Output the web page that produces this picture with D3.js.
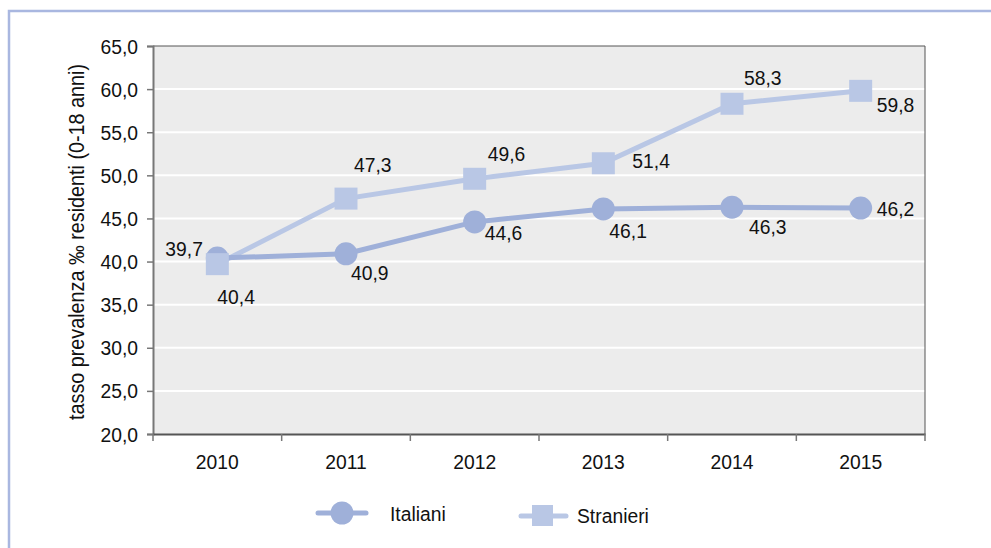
<!DOCTYPE html>
<html><head><meta charset="utf-8">
<script src="https://cdn.jsdelivr.net/npm/d3@7"></script>
<style>body{margin:0;background:#fff}svg{display:block}text{font-family:"Liberation Sans",Arial,sans-serif;fill:#111}</style>
</head><body><svg id="c" width="991" height="548"></svg>
<script>
const years = ["2010","2011","2012","2013","2014","2015"];
const italiani = [40.4, 40.9, 44.6, 46.1, 46.3, 46.2];
const stranieri = [39.7, 47.3, 49.6, 51.4, 58.3, 59.8];
const yTicks = [20,25,30,35,40,45,50,55,60,65];
const seriesNames = ["Italiani","Stranieri"];
const yTitle = "tasso prevalenza ‰ residenti (0-18 anni)";

// label offsets (layout only)
const offI = [[0,46],[5,26],[10,18],[6,29],[17,27],[16,8]];
const offS = [[-52,-8],[8,-27],[13,-18],[29,5],[12,-19],[16,21]];

const svg = d3.select("#c");
const m = {l:153, t:46, r:925, b:434};
const x = d3.scaleBand().domain(years).range([m.l, m.r]);
const y = d3.scaleLinear().domain([20,65]).range([m.b, m.t]);
const fmt = v => d3.format(".1f")(v).replace(".", ",");
const SX = 0.92, FS = 21;
function txt(p, px, py, s, anchor, size, rot) {
  const g = p.append("g").attr("transform", `translate(${px},${py})` + (rot ? ` rotate(${rot})` : ""));
  g.append("text").attr("transform", `scale(${SX},1)`).attr("text-anchor", anchor || "start")
    .style("font-size", (size || FS) + "px").text(s);
  return g;
}

// frame
svg.append("path").attr("d", `M9,548 V11 H991`).attr("fill","none").attr("stroke","#a9b7e0").attr("stroke-width",2.5);

// plot bg
svg.append("rect").attr("x", m.l).attr("y", m.t).attr("width", m.r-m.l).attr("height", m.b-m.t).attr("fill","#ececec");
// grid
svg.append("g").selectAll("line").data(yTicks.slice(1,-1)).join("line")
  .attr("x1", m.l).attr("x2", m.r).attr("y1", d=>y(d)).attr("y2", d=>y(d))
  .attr("stroke","#fff").attr("stroke-width",2);
// border top/right
svg.append("path").attr("d", `M${m.l},${m.t} H${m.r} V${m.b}`).attr("fill","none").attr("stroke","#555").attr("stroke-width",1);

// y axis
const ya = svg.append("g").attr("transform", `translate(${m.l},0)`)
  .call(d3.axisLeft(y).tickValues(yTicks).tickSize(6).tickFormat(""));
ya.select(".domain").attr("stroke","#777").attr("stroke-width",2);
ya.selectAll(".tick line").attr("stroke","#777").attr("stroke-width",1.5);
yTicks.forEach(t => txt(svg, 138, y(t)+7.5, fmt(t), "end"));

// x axis
const xa = svg.append("g").attr("transform", `translate(0,${m.b})`)
  .call(d3.axisBottom(x).tickSize(0).tickFormat(""));
xa.select(".domain").attr("stroke","#555").attr("stroke-width",2);
const bounds = years.map(d => x(d)).concat([m.r]);
svg.append("g").selectAll("line").data(bounds).join("line")
  .attr("x1", d=>d).attr("x2", d=>d).attr("y1", m.b).attr("y2", m.b+7)
  .attr("stroke","#777").attr("stroke-width",1.5);
years.forEach(yr => txt(svg, x(yr)+x.bandwidth()/2, 469, yr, "middle"));

// y title
txt(svg, 84, (m.t+m.b)/2 + 2, yTitle, "middle", 21.5, -90);

const cx = (d,i) => x(years[i]) + x.bandwidth()/2;
const colI = "#9fb0d9", colS = "#b9c7e5";
const line = d3.line().x((d,i)=>cx(d,i)).y(d=>y(d));

// Stranieri
svg.append("path").datum(stranieri).attr("d", line).attr("fill","none").attr("stroke",colS).attr("stroke-width",5);
// Italiani
svg.append("path").datum(italiani).attr("d", line).attr("fill","none").attr("stroke",colI).attr("stroke-width",5);
svg.append("g").selectAll("circle").data(italiani).join("circle")
  .attr("cx", cx).attr("cy", d=>y(d)).attr("r", 11.5).attr("fill", colI);
svg.append("g").selectAll("rect").data(stranieri).join("rect")
  .attr("x", (d,i)=>cx(d,i)-11.5).attr("y", d=>y(d)-11).attr("width", 23).attr("height", 22).attr("fill", colS);

// labels
italiani.forEach((v,i) => txt(svg, cx(v,i)+offI[i][0], y(v)+offI[i][1], fmt(v), "start"));
stranieri.forEach((v,i) => txt(svg, cx(v,i)+offS[i][0], y(v)+offS[i][1], fmt(v), "start"));

// legend
const lg = svg.append("g");
lg.append("line").attr("x1",318).attr("x2",366).attr("y1",513).attr("y2",513).attr("stroke",colI).attr("stroke-width",5).attr("stroke-linecap","round");
lg.append("circle").attr("cx",342).attr("cy",513).attr("r",11.5).attr("fill",colI);
txt(lg, 390, 521, seriesNames[0], "start");
lg.append("line").attr("x1",521).attr("x2",566).attr("y1",516).attr("y2",516).attr("stroke",colS).attr("stroke-width",5).attr("stroke-linecap","round");
lg.append("rect").attr("x",532).attr("y",505).attr("width",21).attr("height",21).attr("fill",colS);
txt(lg, 577, 523, seriesNames[1], "start");
</script></body></html>
